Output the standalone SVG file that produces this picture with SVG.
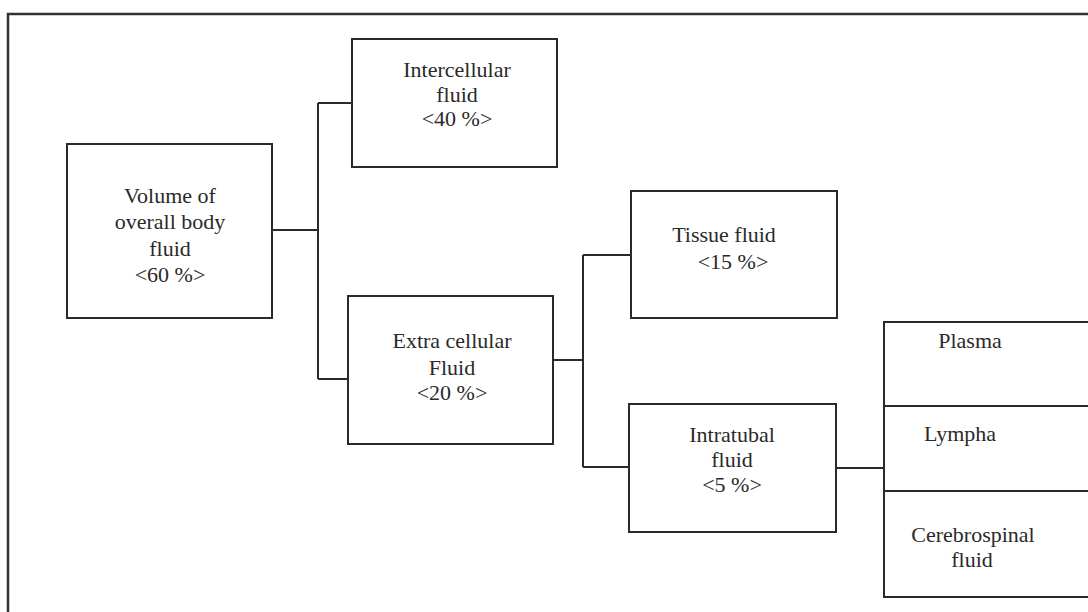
<svg xmlns="http://www.w3.org/2000/svg" width="1088" height="612" viewBox="0 0 1088 612">
<style>
.box{fill:#fff;stroke:#2a2a2a;stroke-width:2}
.ln{fill:none;stroke:#2a2a2a;stroke-width:2}
.frame{fill:none;stroke:#333;stroke-width:2.5}
text{font-family:"Liberation Serif","Times New Roman",serif;font-size:22px;fill:#2a2a2a;text-anchor:middle}
</style>
<rect width="1088" height="612" fill="#fff"/>
<path class="frame" d="M8,612 V14 H1088"/>
<g id="connectors">
<path class="ln" d="M272,230 H318"/>
<path class="ln" d="M318,103 V379"/>
<path class="ln" d="M318,103 H352"/>
<path class="ln" d="M318,379 H348"/>
<path class="ln" d="M553,360 H583"/>
<path class="ln" d="M583,255 V467"/>
<path class="ln" d="M583,255 H631"/>
<path class="ln" d="M583,467 H629"/>
<path class="ln" d="M836,468 H884"/>
</g>
<g id="volume">
<rect class="box" x="67" y="144" width="205" height="174"/>
<text x="170" y="203">Volume of</text>
<text x="170" y="229">overall body</text>
<text x="170" y="256">fluid</text>
<text x="170" y="282">&lt;60 %&gt;</text>
</g>
<g id="intercellular">
<rect class="box" x="352" y="39" width="205" height="128"/>
<text x="457" y="77">Intercellular</text>
<text x="457" y="102">fluid</text>
<text x="457" y="126">&lt;40 %&gt;</text>
</g>
<g id="extracellular">
<rect class="box" x="348" y="296" width="205" height="148"/>
<text x="452" y="348">Extra cellular</text>
<text x="452" y="375">Fluid</text>
<text x="452" y="400">&lt;20 %&gt;</text>
</g>
<g id="tissue">
<rect class="box" x="631" y="191" width="206" height="127"/>
<text x="724" y="242">Tissue fluid</text>
<text x="733" y="269">&lt;15 %&gt;</text>
</g>
<g id="intratubal">
<rect class="box" x="629" y="404" width="207" height="128"/>
<text x="732" y="442">Intratubal</text>
<text x="732" y="467">fluid</text>
<text x="732" y="492">&lt;5 %&gt;</text>
</g>
<g id="plasma">
<rect class="box" x="884" y="322" width="210" height="84"/>
<text x="970" y="348">Plasma</text>
</g>
<g id="lympha">
<rect class="box" x="884" y="406" width="210" height="85"/>
<text x="960" y="441">Lympha</text>
</g>
<g id="csf">
<rect class="box" x="884" y="491" width="210" height="106"/>
<text x="973" y="542">Cerebrospinal</text>
<text x="972" y="567">fluid</text>
</g>
</svg>
